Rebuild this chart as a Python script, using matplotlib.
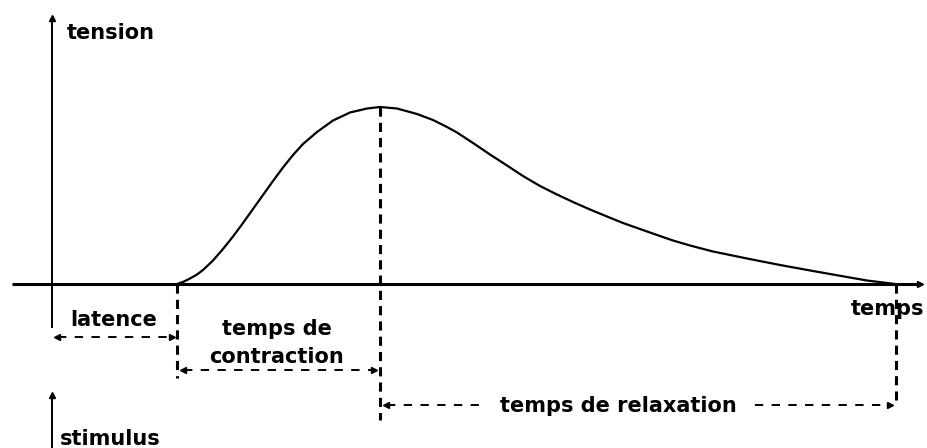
import matplotlib
matplotlib.use("Agg")
import matplotlib.pyplot as plt

plt.rcParams['font.family'] = ['DejaVu Sans']

# Twitch curve: time (arbitrary units) and tension (arbitrary units)
time = [177, 184, 190, 197, 203, 213, 223, 233, 243, 253, 263, 273, 283, 293,
        303, 317, 333, 350, 367, 380, 397, 417, 433, 447, 457, 473, 490, 507,
        523, 540, 557, 573, 590, 607, 623, 640, 657, 673, 690, 713, 747, 780,
        813, 847, 867, 887, 895]
tension = [0, 2.5, 5.5, 9.5, 14, 23.5, 35, 47.5, 61, 75, 89, 103, 116.5, 129,
           140, 152, 163.5, 171.5, 175.5, 177, 175.5, 170, 164, 157, 151.5, 141, 129.5, 118.5,
           108, 98, 89.5, 82, 74.5, 67.5, 61, 55, 49, 43.5, 38.5, 32.5, 25.5, 19,
           13, 7, 3.5, 1, 0]

t_stim = 52          # stimulus time
t_start = 177        # start of contraction
t_peak = 380         # peak tension
t_end = 896          # end of relaxation
peak_tension = 177

labels = {
    'tension': 'tension',
    'temps': 'temps',
    'stimulus': 'stimulus',
    'latence': 'latence',
    'contraction1': 'temps de',
    'contraction2': 'contraction',
    'relaxation': 'temps de relaxation',
}

fig = plt.figure(figsize=(9.27, 4.48), dpi=100)
ax = fig.add_axes([0, 0, 1, 1])
ax.set_xlim(0, 927)
ax.set_ylim(-164, 284)
ax.axis('off')

k = 'black'
# axes
ax.plot([12, 922], [0, 0], color=k, lw=2.2, solid_capstyle='butt')
ax.plot([920], [0], marker='>', color=k, ms=5)
ax.plot([t_stim, t_stim], [-43, 266], color=k, lw=1.4)
ax.plot([t_stim], [266], marker='^', color=k, ms=5)
ax.plot([t_stim, t_stim], [-170, -111], color=k, lw=1.4)
ax.plot([t_stim], [-111], marker='^', color=k, ms=5)

# curve
ax.plot(time, tension, color=k, lw=1.6, solid_joinstyle='round')

# vertical dashed markers
for x0, y0, y1 in [(t_start, 0, -94), (t_peak, peak_tension, -136), (t_end, 0, -116)]:
    ln, = ax.plot([x0, x0], [y0, y1], color=k, lw=2.2, linestyle='--')
    ln.set_dashes([3.0, 2.0])

# horizontal dashed double arrows
def harrow(x0, x1, y):
    ln, = ax.plot([x0 + 4, x1 - 4], [y, y], color=k, lw=1.4, linestyle='--')
    ln.set_dashes([4.3, 4.3])
    ax.plot([x0 + 3], [y], marker='<', color=k, ms=5)
    ax.plot([x1 - 3], [y], marker='>', color=k, ms=5)

harrow(t_stim + 2, t_start - 2, -53)
harrow(t_start + 3, t_peak - 3, -86)
harrow(t_peak + 3, t_end - 3, -121)

fs = 15
fw = 'bold'
ax.text(67, 245, labels['tension'], fontsize=fs, fontweight=fw, ha='left', va='baseline')
ax.text(888, -31, labels['temps'], fontsize=fs, fontweight=fw, ha='center', va='baseline')
ax.text(60, -161, labels['stimulus'], fontsize=fs, fontweight=fw, ha='left', va='baseline')
ax.text(114, -42, labels['latence'], fontsize=fs, fontweight=fw, ha='center', va='baseline')
ax.text(277, -51, labels['contraction1'], fontsize=fs, fontweight=fw, ha='center', va='baseline')
ax.text(277, -79, labels['contraction2'], fontsize=fs, fontweight=fw, ha='center', va='baseline')
ax.text(618, -128, labels['relaxation'], fontsize=fs, fontweight=fw, ha='center', va='baseline',
        bbox=dict(facecolor='white', edgecolor='none', pad=10))

fig.savefig('out.png', dpi=100, facecolor='white')
